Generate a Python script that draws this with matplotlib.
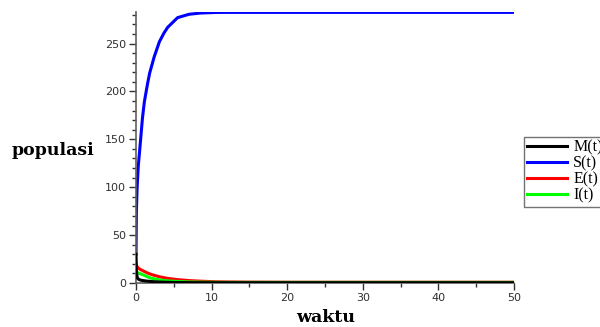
import matplotlib
matplotlib.use("Agg")
import matplotlib.pyplot as plt
from matplotlib.ticker import MultipleLocator

# values
t = [0, 0.05, 0.15, 0.3, 0.6, 0.85, 1.1, 1.5, 1.8, 2.4, 3.1, 3.7, 4.2,
     5.5, 7, 8.5, 10.5, 12, 15, 20, 30, 40, 50]
S = [30, 75, 100, 122, 149, 172, 189, 207, 219, 236, 252, 261, 267,
     277, 280.5, 281.8, 282.4, 282.5, 282.5, 282.5, 282.5, 282.5, 282.5]
M = [30, 12, 6, 4, 3, 2.6, 2.3, 1.9, 1.7, 1.3, 1.0, 0.8, 0.7,
     0.5, 0.4, 0.35, 0.3, 0.3, 0.3, 0.3, 0.3, 0.3, 0.3]
E = [20, 18.5, 17, 15.5, 14, 13, 12, 10.5, 9.5, 8, 6.5, 5.5, 4.8,
     3.5, 2.5, 1.9, 1.3, 1.1, 0.9, 0.8, 0.8, 0.8, 0.8]
I = [12, 11.5, 11, 10.5, 9.5, 8.8, 8, 6.5, 5.5, 4.3, 3.2, 2.6, 2.2,
     1.6, 1.1, 0.9, 0.7, 0.6, 0.6, 0.6, 0.6, 0.6, 0.6]

fig = plt.figure(figsize=(6, 3.27), dpi=100)
ax = fig.add_axes([0.2267, 0.1346, 0.63, 0.829])

ax.plot(t, S, color="#0000ff", lw=2.2, label="S(t)", zorder=2)
ax.plot(t, E, color="#ff0000", lw=2.2, label="E(t)", zorder=3)
ax.plot(t, I, color="#00ff00", lw=2.2, label="I(t)", zorder=4)
ax.plot(t, M, color="black", lw=2.2, label="M(t)", zorder=5)

ax.set_xlim(0, 50)
ax.set_ylim(0, 283)
ax.spines["top"].set_visible(False)
ax.spines["right"].set_visible(False)
for s in ["left", "bottom"]:
    ax.spines[s].set_color("#606060")
    ax.spines[s].set_linewidth(1.2)

ax.xaxis.set_major_locator(MultipleLocator(10))
ax.xaxis.set_minor_locator(MultipleLocator(5))
ax.yaxis.set_major_locator(MultipleLocator(50))
ax.yaxis.set_minor_locator(MultipleLocator(10))
ax.tick_params(which="major", length=5, width=1, color="#303030",
               labelsize=8, labelcolor="#303030", pad=2)
ax.tick_params(which="minor", length=3, width=1, color="#303030")

fig.text(0.02, 0.54, "populasi", family="DejaVu Serif",
         fontweight="bold", fontsize=12.5, ha="left", va="center")
fig.text(0.543, 0.03, "waktu", family="DejaVu Serif",
         fontweight="bold", fontsize=12.5, ha="center", va="center")

# legend sits partly outside the figure, as in the reference
handles, labels = ax.get_legend_handles_labels()
order = [3, 0, 1, 2]
leg = ax.legend([handles[i] for i in order], [labels[i] for i in order],
                loc="upper left", bbox_to_anchor=(1.026, 0.54),
                prop={"family": "Liberation Serif", "size": 11.5},
                frameon=True, fancybox=False, borderpad=0.2,
                labelspacing=0.0, handlelength=2.5, handletextpad=0.4,
                borderaxespad=0)
leg.get_frame().set_edgecolor("#505050")
leg.get_frame().set_linewidth(1.0)

fig.savefig("out.png", dpi=100)
